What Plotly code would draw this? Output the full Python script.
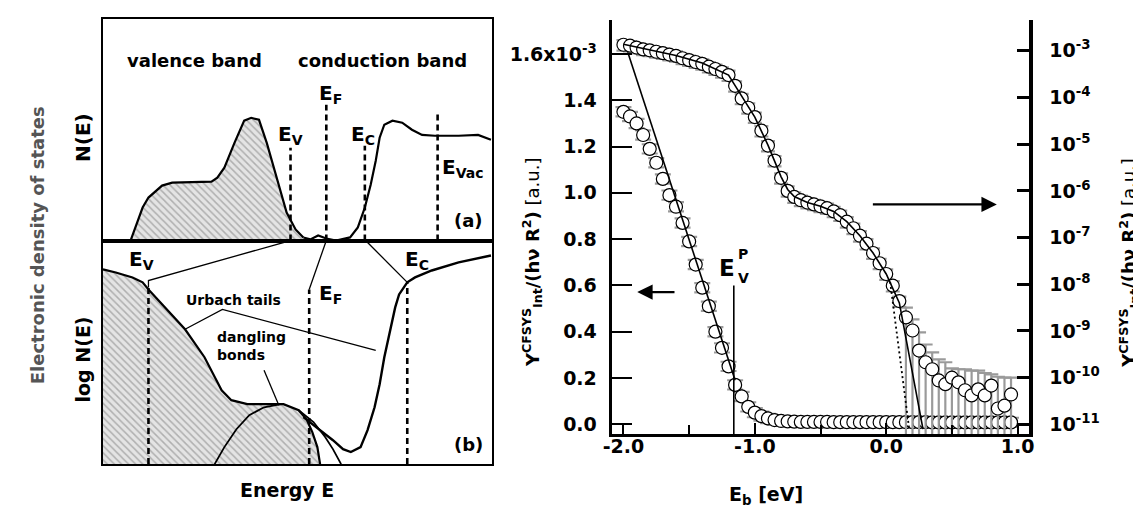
import plotly.graph_objects as go

# ---------------- right plot data ----------------
eb = [round(-2.0 + 0.05 * i, 2) for i in range(60)]  # -2.00 ... 0.95

# linear-scale yield (units of 1e-3 a.u.)
y_lin_e3 = [1.35, 1.33, 1.30, 1.25, 1.19, 1.13, 1.06, 0.99, 0.94, 0.87,
            0.79, 0.69, 0.59, 0.51, 0.40, 0.33, 0.25, 0.17, 0.12, 0.075,
            0.05, 0.035, 0.025, 0.018, 0.014, 0.012, 0.011, 0.010, 0.010, 0.010,
            0.010, 0.010, 0.009, 0.009, 0.009, 0.009, 0.009, 0.009, 0.009, 0.009,
            0.009, 0.009, 0.009, 0.009, 0.009, 0.009, 0.009, 0.008, 0.008, 0.008,
            0.008, 0.008, 0.008, 0.008, 0.008, 0.008, 0.008, 0.008, 0.008, 0.008]
lin_err_e3 = 0.02

# log-scale yield, log10 exponents
y_log_exp = [-2.87, -2.89, -2.93, -2.97, -2.99, -3.02, -3.05, -3.08, -3.11, -3.16,
             -3.20, -3.24, -3.28, -3.34, -3.39, -3.45, -3.52, -3.75, -4.02, -4.22,
             -4.42, -4.71, -5.03, -5.35, -5.72, -6.00, -6.13, -6.20, -6.25, -6.29,
             -6.33, -6.37, -6.44, -6.52, -6.66, -6.80, -6.96, -7.13, -7.33, -7.55,
             -7.78, -8.03, -8.36, -8.71, -8.99, -9.42, -9.67, -9.82, -10.06, -10.14,
             -10.00, -10.10, -10.27, -10.38, -10.25, -10.38, -10.17, -10.66, -10.60, -10.36]
# upper error-bar ends (log10) for the noisy tail, x = 0.15 ... 0.95
tail_cap_exp = [-8.50, -8.75, -9.03, -9.29, -9.46, -9.61, -9.67, -9.80, -9.82,
                -9.82, -9.85, -9.85, -9.90, -9.93, -9.98, -10.00, -10.00]
tail_start = 0.15
small_rel_err = 0.25

# fit lines
lin_fit_x = [-1.98, -1.15]
lin_fit_e3 = [1.63, 0.19]
log_fit_x = [-2.0, -1.8, -1.6, -1.4, -1.2, -1.1, -1.0, -0.9, -0.8, -0.75, -0.7,
             -0.6, -0.5, -0.4, -0.3, -0.2, -0.1, 0.0, 0.1, 0.28]
log_fit_exp = [-2.86, -2.98, -3.10, -3.26, -3.52, -3.97, -4.42, -5.02, -5.70, -5.97,
               -6.12, -6.25, -6.33, -6.44, -6.66, -6.96, -7.33, -7.78, -8.40, -11.1]
dot_fit_x = [0.03, 0.175]
dot_fit_exp = [-7.95, -11.1]
EVP = -1.16

x_ticks = [-2.0, -1.0, 0.0, 1.0]
x_ticktext = ["-2.0", "-1.0", "0.0", "1.0"]
ylin_ticks = [0.0, 0.2, 0.4, 0.6, 0.8, 1.0, 1.2, 1.4, 1.6]
ylin_ticktext = ["0.0", "0.2", "0.4", "0.6", "0.8", "1.0", "1.2", "1.4", "1.6x10<sup>-3</sup>"]
ylog_exps = [-11, -10, -9, -8, -7, -6, -5, -4, -3]

# ---------------- schematic data (panel units 0..100) ----------------
a_val_x = [7.1, 8.4, 10.2, 11.7, 15.2, 17.8, 27.9, 29.4, 31.2, 33.8, 36.3, 38.1, 40.1,
           42.1, 44.7, 47.2, 49.5, 51.5]
a_val_y = [0, 5.9, 14.9, 19.4, 24.8, 26.1, 26.6, 28.4, 32.9, 44.1, 54.1, 55.4, 54.5,
           44.1, 28.4, 12.6, 5.0, 1.4]
a_gap_x = [51.5, 53.3, 55.3, 57.4, 59.9]
a_gap_y = [1.4, 0.5, 2.3, 0.9, 0.0]
a_con_x = [59.9, 63.5, 65.5, 67.3, 68.8, 70.1, 71.1, 72.3, 74.4, 76.9, 79.4, 82.0, 85.3,
           91.4, 96.4, 99.7]
a_con_y = [0, 1.4, 5.9, 14.9, 25.2, 36.0, 46.4, 52.3, 54.1, 53.2, 50.0, 47.7, 47.3,
           47.3, 47.7, 45.5]
a_lines = {"EV": (48.2, 41.9), "EF": (57.4, 61.3), "EC": (67.3, 42.8), "EVac": (86.0, 57.7)}

b_val_x = [0, 3.3, 7.6, 10.2, 11.7, 16.0, 21.1, 26.1, 30.5, 33.0, 37.1, 43.9, 46.4,
           50.3, 52.3, 53.8, 55.1, 55.8]
b_val_y = [87.1, 85.7, 83.5, 81.3, 78.1, 70.1, 60.3, 47.8, 33.0, 28.6, 26.8, 26.8, 26.8,
           24.1, 20.1, 14.3, 7.6, 0]
b_db_x = [28.7, 31.2, 34.3, 37.6, 41.4, 45.7]
b_db_y = [0, 7.6, 15.6, 21.9, 25.4, 26.8]
b_tail_x = [50.3, 54.1, 57.1, 59.1, 61.2]
b_tail_y = [24.1, 18.8, 12.1, 6.7, 0]
b_con_x = [51.5, 54.1, 56.6, 59.1, 61.7, 63.7, 66.2, 68.0, 69.8, 71.1, 72.3, 73.6, 75.1,
           76.1, 78.2, 80.2, 84.5, 91.4, 99.7]
b_con_y = [21.0, 17.4, 14.3, 10.7, 6.7, 5.4, 7.6, 15.2, 25.4, 35.7, 47.8, 58.0, 70.1,
           75.9, 81.3, 83.5, 86.6, 90.2, 93.3]
b_lines = {"EV": (11.7, 80.0), "EF": (53.0, 78.1), "EC": (78.2, 81.3)}
b_ptr_EV = ([48.2, 11.7, 11.7], [100, 82.1, 79.0])
b_ptr_EF = ([57.4, 53.0], [100, 78.1])
b_ptr_EC = ([67.5, 78.2], [100, 81.3])
b_ptr_urb = ([21.1, 30.7, 70.1], [60.3, 69.2, 50.9])
b_ptr_db = ([41.4, 45.2], [42.0, 26.3])

FONT = "DejaVu Sans"
W, H = 1141, 507

fig = go.Figure()

# ---- right plot traces ----
yl = [10 ** v for v in y_log_exp]
err_plus, err_minus = [], []
for xv, v in zip(eb, yl):
    if xv >= tail_start - 1e-9:
        cap = tail_cap_exp[int(round((xv - tail_start) / 0.05))]
        err_plus.append(10 ** cap - v)
        err_minus.append(v - 1e-12)
    else:
        err_plus.append(v * small_rel_err)
        err_minus.append(v * small_rel_err)

fig.add_trace(go.Scatter(
    x=eb, y=yl, xaxis="x", yaxis="y2", mode="markers",
    marker=dict(symbol="circle", size=13, color="white", line=dict(color="black", width=1.2)),
    error_y=dict(type="data", array=err_plus, arrayminus=err_minus, color="#9a9a9a",
                 thickness=2.2, width=7),
    showlegend=False))
fig.add_trace(go.Scatter(
    x=eb, y=y_lin_e3, xaxis="x", yaxis="y", mode="markers",
    marker=dict(symbol="circle", size=13, color="white", line=dict(color="black", width=1.2)),
    error_y=dict(type="constant", value=lin_err_e3, color="#9a9a9a", thickness=2.2, width=8),
    showlegend=False))
fig.add_trace(go.Scatter(x=lin_fit_x, y=lin_fit_e3, xaxis="x", yaxis="y", mode="lines",
                         line=dict(color="black", width=1.6), showlegend=False))
fig.add_trace(go.Scatter(x=log_fit_x, y=[10 ** v for v in log_fit_exp], xaxis="x", yaxis="y2",
                         mode="lines", line=dict(color="black", width=1.6), showlegend=False))
fig.add_trace(go.Scatter(x=dot_fit_x, y=[10 ** v for v in dot_fit_exp], xaxis="x", yaxis="y2",
                         mode="lines", line=dict(color="black", width=1.8, dash="2px,3px"),
                         showlegend=False))
fig.add_trace(go.Scatter(x=[EVP, EVP], y=[0.60, -0.05], xaxis="x", yaxis="y", mode="lines",
                         line=dict(color="black", width=1.6), showlegend=False))

# ---- schematic traces ----
def ln(x, y, ax, width=2.2, dash=None, **kw):
    fig.add_trace(go.Scatter(x=x, y=y, xaxis="x" + ax, yaxis="y" + ax, mode="lines",
                             line=dict(color="black", width=width, dash=dash),
                             showlegend=False, hoverinfo="skip", **kw))

hatch = dict(shape="\\", fgcolor="#7a7a7a", bgcolor="#e4e4e4", size=5, solidity=0.3)
ln(a_val_x, a_val_y, "3", fill="tozeroy", fillpattern=hatch, fillcolor="#e4e4e4")
ln(a_gap_x, a_gap_y, "3")
ln(a_con_x, a_con_y, "3")
for k, (xv, top) in a_lines.items():
    ln([xv, xv], [0, top], "3", width=2.6, dash="6px,4px")

ln(b_val_x, b_val_y, "4", fill="tozeroy", fillpattern=hatch, fillcolor="#e4e4e4")
ln(b_db_x, b_db_y, "4", width=1.8)
ln(b_tail_x, b_tail_y, "4", width=1.8)
ln(b_con_x, b_con_y, "4", width=2.4)
for k, (xv, top) in b_lines.items():
    ln([xv, xv], [0, top], "4", width=2.6, dash="6px,4px")
for px, py in (b_ptr_EV, b_ptr_EF, b_ptr_EC, b_ptr_urb, b_ptr_db):
    ln(px, py, "4", width=1.3)

# ---- layout ----
def pxX(p):
    return p / W

def pxY(p):
    return 1 - p / H

tickfont = dict(family=FONT, size=19, color="black", weight="bold")
blank = dict(showgrid=False, zeroline=False, showticklabels=False, ticks="")

fig.update_layout(
    width=W, height=H, margin=dict(l=0, r=0, t=0, b=0),
    paper_bgcolor="white", plot_bgcolor="rgba(0,0,0,0)", showlegend=False,
    font=dict(family=FONT, color="black"),
    xaxis=dict(domain=[pxX(602), pxX(1025)], range=[-2.09, 1.09], anchor="y",
               tickvals=x_ticks, ticktext=x_ticktext, ticks="inside", ticklen=11, tickwidth=2,
               tickcolor="black", showline=True, linewidth=3, linecolor="black",
               minor=dict(dtick=0.5, tick0=0, ticks="inside", ticklen=9, tickwidth=2,
                          tickcolor="black", showgrid=False),
               showgrid=False, zeroline=False, tickfont=tickfont, ticklabelstandoff=-7),
    xaxis2=dict(overlaying="x", matches="x", side="top", anchor="y", dtick=0.5, tick0=0,
                ticks="inside", ticklen=18, tickwidth=2, tickcolor="black",
                showticklabels=False, showline=True, linewidth=2.5, linecolor="black",
                showgrid=False, zeroline=False),
    yaxis=dict(domain=[pxY(427), pxY(12)], range=[-0.043, 1.747], anchor="x",
               tickvals=ylin_ticks, ticktext=ylin_ticktext, ticks="inside", ticklen=20,
               tickwidth=2, tickcolor="black", showline=True, linewidth=3, linecolor="black",
               showgrid=False, zeroline=False, tickfont=tickfont, ticklabelstandoff=8),
    yaxis2=dict(type="log", overlaying="y", side="right", anchor="x", range=[-11.21, -2.34],
                tickvals=[10 ** e for e in ylog_exps],
                ticktext=["10<sup>%d</sup>" % e for e in ylog_exps],
                ticks="inside", ticklen=12, tickwidth=2.5, tickcolor="black",
                showline=True, linewidth=4, linecolor="black", showgrid=False,
                zeroline=False, tickfont=tickfont, ticklabelstandoff=12),
    xaxis3=dict(domain=[pxX(87), pxX(481)], range=[0, 100], anchor="y3", showline=True,
                mirror=True, linewidth=2.2, linecolor="black", **blank),
    yaxis3=dict(domain=[pxY(233), pxY(11)], range=[0, 100], anchor="x3", showline=True,
                mirror=True, linewidth=2.2, linecolor="black", **blank),
    xaxis4=dict(domain=[pxX(87), pxX(481)], range=[0, 100], anchor="y4", showline=True,
                mirror=True, linewidth=2.2, linecolor="black", **blank),
    yaxis4=dict(domain=[pxY(457), pxY(233)], range=[0, 100], anchor="x4", showline=True,
                mirror=True, linewidth=2.2, linecolor="black", **blank),
)

ann = []

def A(text, x, y, xref, yref, size=18, angle=0, xanchor="center", color="black", **kw):
    ann.append(dict(text=text, x=x, y=y, xref=xref, yref=yref, showarrow=False,
                    textangle=angle, xanchor=xanchor, yanchor="middle",
                    font=dict(family=FONT, size=size, color=color), **kw))

# right plot texts
A("<b>E<sub>b</sub> [eV]</b>", pxX(758), pxY(488), "paper", "paper", size=19)
ytitle = "<b>Y<sup>CFSYS</sup><sub>Int</sub>/(hν R<sup>2</sup>)</b> [a.u.]"
A(ytitle, pxX(522), pxY(255), "paper", "paper", size=18, angle=-90)
A(ytitle, pxX(1126), pxY(255), "paper", "paper", size=18, angle=-90)
A("<b>E</b>", -1.215, 0.675, "x", "y", size=23)
A("<b>P</b>", -1.09, 0.735, "x", "y", size=14)
A("<b>V</b>", -1.09, 0.632, "x", "y", size=14)
ann.append(dict(x=-1.895, y=0.571, ax=-1.60, ay=0.571, xref="x", yref="y", axref="x", ayref="y",
                showarrow=True, arrowhead=2, arrowsize=1.4, arrowwidth=2.2, arrowcolor="black",
                text=""))
ann.append(dict(x=0.842, y=-6.29, ax=-0.113, ay=-6.29, xref="x", yref="y2", axref="x",
                ayref="y2", showarrow=True, arrowhead=2, arrowsize=1.4, arrowwidth=2.2,
                arrowcolor="black", text=""))

# schematic texts
A("<b>valence band</b>", 23.6, 81.1, "x3", "y3", size=18)
A("<b>conduction band</b>", 71.8, 81.1, "x3", "y3", size=18)
A("<b>E<sub>F</sub></b>", 58.6, 66.2, "x3", "y3", size=20)
A("<b>E<sub>V</sub></b>", 48.2, 47.7, "x3", "y3", size=20)
A("<b>E<sub>C</sub></b>", 66.8, 47.7, "x3", "y3", size=20)
A("<b>E<sub>Vac</sub></b>", 92.4, 32.9, "x3", "y3", size=20)
A("<b>(a)</b>", 93.9, 9.0, "x3", "y3", size=18)
A("<b>E<sub>V</sub></b>", 9.9, 91.5, "x4", "y4", size=20)
A("<b>E<sub>F</sub></b>", 58.6, 75.9, "x4", "y4", size=20)
A("<b>E<sub>C</sub></b>", 80.7, 91.1, "x4", "y4", size=20)
A("<b>(b)</b>", 93.9, 8.9, "x4", "y4", size=18)
A("<b>Urbach tails</b>", 33.5, 73.2, "x4", "y4", size=14)
A("<b>dangling<br>bonds</b>", 28.9, 52.7, "x4", "y4", size=14, xanchor="left", align="left")
A("<b>Electronic density of states</b>", pxX(21), pxY(238), "paper", "paper", size=18,
  angle=-90, color="#555555")
A("<b>N(E)</b>", pxX(67), pxY(130), "paper", "paper", size=20, angle=-90)
A("<b>log N(E)</b>", pxX(67), pxY(352), "paper", "paper", size=19, angle=-90)
A("<b>Energy E</b>", pxX(273), pxY(483), "paper", "paper", size=19)

fig.update_layout(annotations=ann)
fig.write_html("out.html")
